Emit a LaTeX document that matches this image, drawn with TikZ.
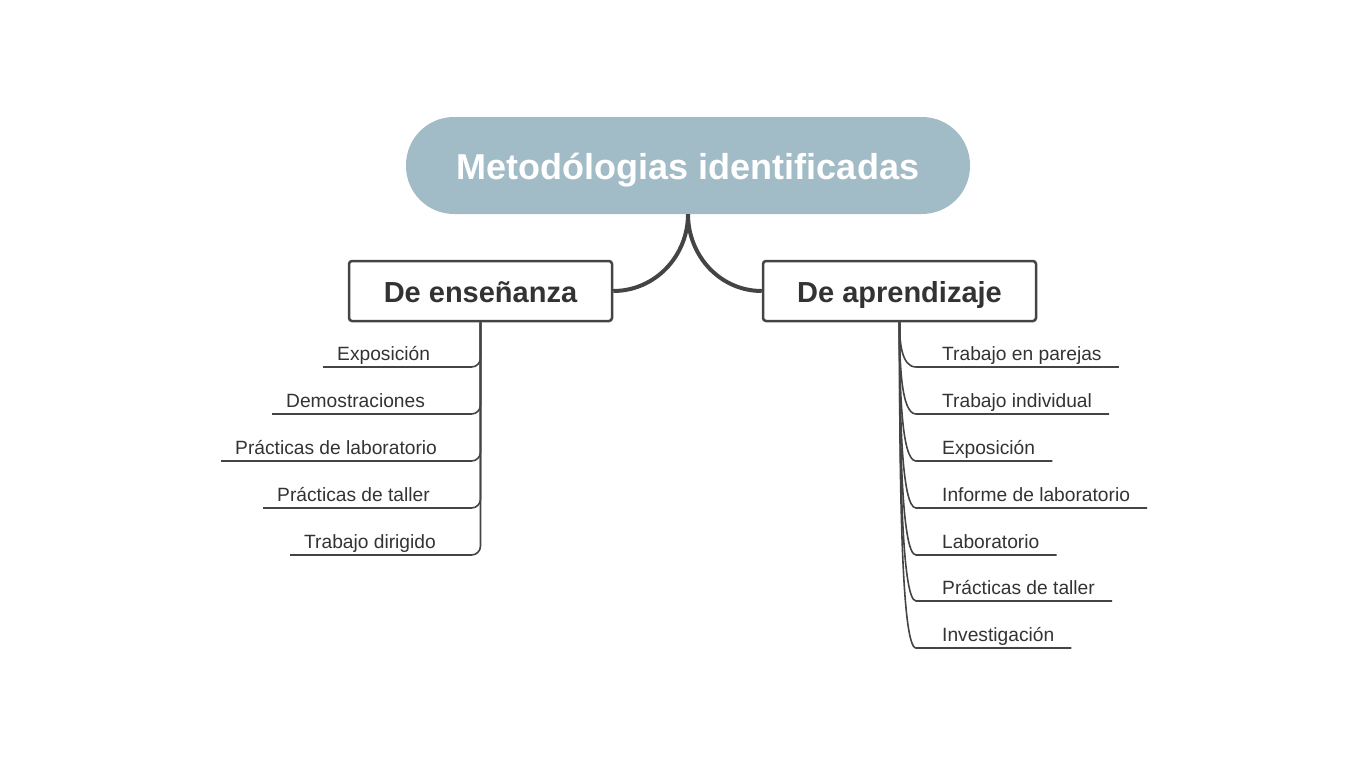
\documentclass[tikz,border=0pt]{standalone}
\usepackage{fontspec}
\setmainfont{Liberation Sans}
\definecolor{rootblue}{HTML}{A1BBC7}
\definecolor{linegray}{HTML}{444444}
\definecolor{textgray}{HTML}{333333}
\tikzset{
	rootnode/.style={fill=rootblue, rounded corners=48pt, minimum width=564pt, minimum height=97pt, text height=30pt, text depth=3pt, text=white, font=\fontsize{36}{40}\selectfont\bfseries},
	branchnode/.style={draw=linegray, line width=2.5pt, fill=white, rounded corners=3pt, minimum height=60pt, text height=24pt, text depth=2pt, text=textgray, font=\fontsize{29}{33}\selectfont\bfseries},
	leafnode/.style={inner xsep=14pt, inner ysep=6pt, text depth=0pt, text=textgray, font=\fontsize{19.2}{22}\selectfont},
	bigline/.style={draw=linegray, line width=4pt},
	leafline/.style={draw=linegray, line width=1.6pt, rounded corners=9pt}
}
\begin{document}
\begin{tikzpicture}[x=1pt, y=-1pt]
	\useasboundingbox (0,0) rectangle (1366,768);
	\node[rootnode] (root) at (688,165.5) {Metodólogias identificadas};
	\node[branchnode, minimum width=263pt] (ens) at (480.5,291) {De enseñanza};
	\node[branchnode, minimum width=273pt] (apr) at (899.5,291) {De aprendizaje};
	
	\draw[bigline] (root.south) to[out=-90, in=0] (ens.east);
	\draw[bigline] (root.south) to[out=-90, in=180] (apr.west);
	
	\node[leafnode, anchor=south west] (e1) at (323,367) {Exposición};
	\node[leafnode, anchor=south west] (e2) at (272,414) {Demostraciones};
	\node[leafnode, anchor=south west] (e3) at (221,461) {Prácticas de laboratorio};
	\node[leafnode, anchor=south west] (e4) at (263,508) {Prácticas de taller};
	\node[leafnode, anchor=south west] (e5) at (290,555) {Trabajo dirigido};
	\foreach \n in {e1,e2,e3,e4,e5} \draw[leafline] (ens.south) |- (\n.south west);
	
	\node[leafnode, inner xsep=17pt, anchor=south west] (a1) at (925,367) {Trabajo en parejas};
	\node[leafnode, inner xsep=17pt, anchor=south west] (a2) at (925,414) {Trabajo individual};
	\node[leafnode, inner xsep=17pt, anchor=south west] (a3) at (925,461) {Exposición};
	\node[leafnode, inner xsep=17pt, anchor=south west] (a4) at (925,508) {Informe de laboratorio};
	\node[leafnode, inner xsep=17pt, anchor=south west] (a5) at (925,555) {Laboratorio};
	\node[leafnode, inner xsep=17pt, anchor=south west] (a6) at (925,601) {Prácticas de taller};
	\node[leafnode, inner xsep=17pt, anchor=south west] (a7) at (925,648) {Investigación};
	\foreach \n/\d in {a1/18,a2/40,a3/62,a4/84,a5/106,a6/128,a7/150}
		\draw[leafline] (apr.south) to[out=-90, in=180, out distance=\d pt, in distance=24pt] (\n.south west) -- (\n.south east);
\end{tikzpicture}
\end{document}
